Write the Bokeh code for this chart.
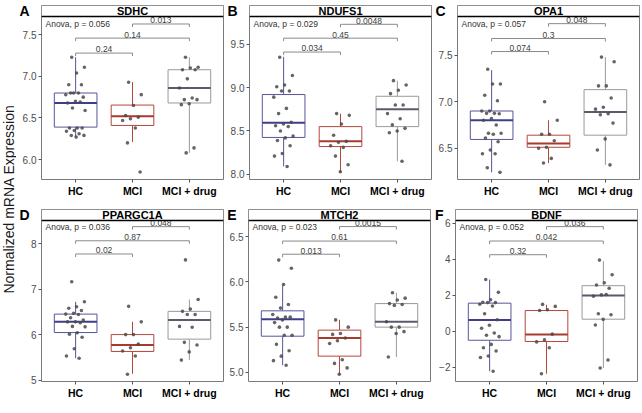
import math
from bokeh.plotting import figure
from bokeh.layouts import row, column
from bokeh.models import Range1d, FixedTicker, BoxAnnotation, Span, Label, LinearAxis
from bokeh.core.properties import value
from bokeh.embed import file_html
from bokeh.resources import INLINE

FONT = "Liberation Sans"

# ---------------- data ----------------
groups = ["HC", "MCI", "MCI + drug"]
genes = ["SDHC", "NDUFS1", "OPA1", "PPARGC1A", "MTCH2", "BDNF"]
letters = ["A", "B", "C", "D", "E", "F"]
anova_p = ["0.056", "0.029", "0.057", "0.036", "0.023", "0.052"]
p_hc_mci = ["0.24", "0.034", "0.074", "0.02", "0.013", "0.32"]
p_hc_drug = ["0.14", "0.45", "0.3", "0.87", "0.61", "0.042"]
p_mci_drug = ["0.013", "0.0048", "0.048", "0.048", "0.0015", "0.036"]
ylevel_hc_mci = [7.28, 9.41, 7.54, 7.77, 6.305, 4.26]
ylevel_hc_drug = [7.46, 9.57, 7.68, 8.06, 6.45, 5.02]
ylevel_mci_drug = [7.63, 9.73, 7.84, 8.37, 6.61, 5.82]
y_limits = [(5.76, 7.72), (7.94, 9.82), (6.163, 7.917), (4.97, 8.505), (4.90, 6.677), (-2.78, 6.16)]
y_ticks = [[6.0, 6.5, 7.0, 7.5], [8.0, 8.5, 9.0, 9.5], [6.5, 7.0, 7.5],
           [5, 6, 7, 8], [5.0, 5.5, 6.0, 6.5], [-2, 0, 2, 4, 6]]
y_tick_labels = [["6.0", "6.5", "7.0", "7.5"], ["8.0", "8.5", "9.0", "9.5"], ["6.5", "7.0", "7.5"],
                 ["5", "6", "7", "8"], ["5.0", "5.5", "6.0", "6.5"], ["\u22122", "0", "2", "4", "6"]]

sdhc_hc = [7.23, 7.11, 7.04, 6.90, 6.90, 6.80, 6.78, 6.80, 6.80, 6.75, 6.70, 6.68, 6.69, 6.62, 6.59,
           6.38, 6.38, 6.38, 6.35, 6.34, 6.31, 6.29, 6.29, 6.27]
sdhc_mci = [6.93, 6.78, 6.65, 6.53, 6.51, 6.49, 6.47, 6.38, 6.20, 5.85]
sdhc_drug = [7.23, 7.11, 7.10, 7.08, 7.08, 6.97, 6.86, 6.74, 6.72, 6.72, 6.67, 6.66, 6.14, 6.08]
sdhc_lower = [6.27, 6.21, 6.08]
sdhc_q1 = [6.39, 6.41, 6.68]
sdhc_med = [6.68, 6.52, 6.86]
sdhc_q3 = [6.80, 6.655, 7.08]
sdhc_upper = [7.23, 6.93, 7.23]

ndufs1_hc = [9.35, 9.14, 9.03, 9.01, 8.96, 8.96, 8.89, 8.76, 8.70, 8.60, 8.58, 8.56, 8.55, 8.50, 8.44,
             8.42, 8.39, 8.33, 8.24, 8.21, 8.09]
ndufs1_mci = [8.70, 8.68, 8.58, 8.45, 8.38, 8.37, 8.33, 8.31, 8.21, 8.11, 8.03]
ndufs1_drug = [9.08, 9.03, 8.97, 8.93, 8.80, 8.80, 8.70, 8.64, 8.57, 8.53, 8.50, 8.48, 8.15]
ndufs1_lower = [8.09, 8.02, 8.15]
ndufs1_q1 = [8.425, 8.32, 8.55]
ndufs1_med = [8.595, 8.38, 8.75]
ndufs1_q3 = [8.92, 8.55, 8.90]
ndufs1_upper = [9.355, 8.70, 9.08]

opa1_hc = [7.35, 7.19, 7.19, 7.07, 7.01, 6.90, 6.90, 6.875, 6.875, 6.87, 6.82, 6.80, 6.75, 6.66, 6.66,
           6.65, 6.61, 6.57, 6.48, 6.44, 6.44, 6.29, 6.24]
opa1_mci = [7.00, 6.80, 6.65, 6.65, 6.58, 6.51, 6.50, 6.39, 6.34]
opa1_drug = [7.48, 7.43, 7.17, 7.17, 7.04, 6.94, 6.92, 6.87, 6.86, 6.77, 6.60, 6.48, 6.32]
opa1_lower = [6.24, 6.34, 6.32]
opa1_q1 = [6.594, 6.51, 6.64]
opa1_med = [6.80, 6.55, 6.89]
opa1_q3 = [6.90, 6.64, 7.13]
opa1_upper = [7.34, 6.80, 7.48]

ppargc1a_hc = [7.16, 6.72, 6.61, 6.58, 6.53, 6.47, 6.45, 6.44, 6.37, 6.32, 6.28, 6.28, 6.26, 6.18, 6.17,
               6.04, 6.01, 5.94, 5.69, 5.53, 5.48]
ppargc1a_mci = [6.62, 6.28, 6.00, 6.00, 5.79, 5.71, 5.64, 5.53, 5.13]
ppargc1a_drug = [7.64, 6.77, 6.56, 6.51, 6.44, 6.44, 6.18, 6.16, 5.83, 5.77, 5.62, 5.44]
ppargc1a_lower = [5.48, 5.14, 5.44]
ppargc1a_q1 = [6.045, 5.63, 5.90]
ppargc1a_med = [6.28, 5.77, 6.32]
ppargc1a_q3 = [6.45, 6.00, 6.51]
ppargc1a_upper = [6.72, 6.28, 6.77]

mtch2_hc = [6.24, 6.15, 5.97, 5.83, 5.75, 5.71, 5.64, 5.61, 5.60, 5.61, 5.58, 5.55, 5.50, 5.50, 5.41,
            5.41, 5.31, 5.24, 5.18, 5.13, 5.08]
mtch2_mci = [5.58, 5.50, 5.43, 5.42, 5.38, 5.35, 5.32, 5.14, 5.10, 5.05, 4.98]
mtch2_drug = [5.88, 5.82, 5.80, 5.76, 5.75, 5.74, 5.56, 5.50, 5.50, 5.45, 5.43, 5.17]
mtch2_lower = [5.08, 4.98, 5.17]
mtch2_q1 = [5.40, 5.18, 5.50]
mtch2_med = [5.587, 5.38, 5.56]
mtch2_q3 = [5.68, 5.467, 5.76]
mtch2_upper = [5.96, 5.58, 5.88]

bdnf_hc = [2.88, 2.17, 1.76, 1.62, 1.60, 1.60, 1.51, 1.41, 0.98, 0.65, 0.34, 0.18, -0.09, -0.21, -0.29,
           -0.72, -0.91, -1.09, -1.36, -1.45, -2.21]
bdnf_mci = [1.50, 1.39, 1.20, 1.16, -0.15, -0.47, -0.58, -0.91, -2.35]
bdnf_drug = [3.96, 3.15, 2.70, 2.58, 2.40, 2.03, 1.96, 2.05, 0.98, 0.93, 0.67, 0.36, -1.59, -2.03]
bdnf_lower = [-2.21, -2.35, -2.03]
bdnf_q1 = [-0.49, -0.56, 0.68]
bdnf_med = [0.63, -0.17, 1.99]
bdnf_q3 = [1.57, 1.16, 2.54]
bdnf_upper = [2.88, 1.48, 3.91]

points = [
    [sdhc_hc, sdhc_mci, sdhc_drug],
    [ndufs1_hc, ndufs1_mci, ndufs1_drug],
    [opa1_hc, opa1_mci, opa1_drug],
    [ppargc1a_hc, ppargc1a_mci, ppargc1a_drug],
    [mtch2_hc, mtch2_mci, mtch2_drug],
    [bdnf_hc, bdnf_mci, bdnf_drug],
]
boxes = [
    (sdhc_lower, sdhc_q1, sdhc_med, sdhc_q3, sdhc_upper),
    (ndufs1_lower, ndufs1_q1, ndufs1_med, ndufs1_q3, ndufs1_upper),
    (opa1_lower, opa1_q1, opa1_med, opa1_q3, opa1_upper),
    (ppargc1a_lower, ppargc1a_q1, ppargc1a_med, ppargc1a_q3, ppargc1a_upper),
    (mtch2_lower, mtch2_q1, mtch2_med, mtch2_q3, mtch2_upper),
    (bdnf_lower, bdnf_q1, bdnf_med, bdnf_q3, bdnf_upper),
]

# ---------------- style ----------------
box_colors = ["#55559b", "#b4473a", "#9a9a9a"]
median_colors = ["#3e3e8a", "#a83a2d", "#5a5a6c"]
point_color = "#4a4a4a"
FRAME_W = 182
STRIP_PX = 11
TICK_FONT_PX = 10


def approx_width(s):
    w = 0.0
    for ch in s:
        if ch == ".":
            w += 0.278
        elif ch == "\u2212":
            w += 0.584
        else:
            w += 0.556
    return w * TICK_FONT_PX


def jitter(n):
    return [(((k * 0.6180339887) + 0.31) % 1.0 - 0.5) * 0.36 for k in range(n)]


def make_panel(i, top_border, frame_h):
    ylo, yhi = y_limits[i]
    upp = (yhi - ylo) / (frame_h - STRIP_PX)
    ytop = yhi + STRIP_PX * upp
    mid = (yhi + ytop) / 2
    p = figure(frame_width=FRAME_W, frame_height=frame_h,
               x_range=Range1d(0.4, 3.6), y_range=Range1d(ylo, ytop),
               output_backend="svg", toolbar_location=None,
               min_border_left=20, min_border_right=1,
               min_border_top=top_border, min_border_bottom=18)
    p.xgrid.grid_line_color = None
    p.ygrid.grid_line_color = None
    p.outline_line_color = "#7a7a7a"
    p.outline_line_width = 1
    p.background_fill_color = "white"

    # axes
    p.xaxis.ticker = FixedTicker(ticks=[1, 2, 3])
    p.xaxis.major_label_overrides = {k + 1: g for k, g in enumerate(groups)}
    p.xaxis.major_label_text_font = FONT
    p.xaxis.major_label_text_font_style = "bold"
    p.xaxis.major_label_text_font_size = "10.5px"
    p.xaxis.major_label_text_color = "black"
    p.xaxis.major_label_standoff = 2
    p.yaxis.ticker = FixedTicker(ticks=y_ticks[i])
    p.yaxis.major_label_overrides = {t: l for t, l in zip(y_ticks[i], y_tick_labels[i])}
    p.yaxis.major_label_text_font = FONT
    p.yaxis.major_label_text_font_size = "%dpx" % TICK_FONT_PX
    p.yaxis.major_label_text_color = "#4d4d4d"
    p.yaxis.major_label_standoff = 2
    for ax in (p.xaxis, p.yaxis):
        ax.axis_line_color = None
        ax.major_tick_in = 0
        ax.major_tick_out = 3
        ax.major_tick_line_color = "#555555"
        ax.minor_tick_line_color = None

    # panel letter as an outer axis label sitting left of the strip
    inner = 3 + 2 + max(approx_width(s) for s in y_tick_labels[i])
    letter_axis = LinearAxis(ticker=FixedTicker(ticks=[mid]),
                             major_label_overrides={mid: letters[i]},
                             axis_line_color=None, major_tick_line_color=None,
                             minor_tick_line_color=None, major_tick_in=0, major_tick_out=0,
                             major_label_standoff=int(round(9 - inner)),
                             major_label_text_font=FONT, major_label_text_font_style="bold",
                             major_label_text_font_size="14px", major_label_text_color="black")
    p.add_layout(letter_axis, "left")

    lower, q1, med, q3, upper = boxes[i]
    xs = [1, 2, 3]
    p.segment(x0=xs, y0=q3, x1=xs, y1=upper, line_color=box_colors, line_width=1)
    p.segment(x0=xs, y0=q1, x1=xs, y1=lower, line_color=box_colors, line_width=1)
    p.vbar(x=xs, width=0.75, bottom=q1, top=q3, fill_color="white",
           line_color=box_colors, line_width=1)
    p.segment(x0=[x - 0.375 for x in xs], y0=med, x1=[x + 0.375 for x in xs], y1=med,
              line_color=median_colors, line_width=2)
    for g in range(3):
        vals = points[i][g]
        jx = [g + 1 + d for d in jitter(len(vals))]
        p.scatter(x=jx, y=vals, size=3.6, fill_color=point_color, line_color=None, fill_alpha=0.85)

    # brackets
    tick = 3 * upp
    pairs = [(1, 3, ylevel_hc_drug[i], p_hc_drug[i]),
             (1, 2, ylevel_hc_mci[i], p_hc_mci[i]),
             (2, 3, ylevel_mci_drug[i], p_mci_drug[i])]
    bx, by, tx, ty, tt = [], [], [], [], []
    for a, b, y, lab in pairs:
        bx.append([a, a, b, b])
        by.append([y - tick, y, y, y - tick])
        tx.append((a + b) / 2)
        ty.append(y + 0.6 * upp)
        tt.append(lab)
    p.multi_line(xs=bx, ys=by, line_color="#8a8a8a", line_width=1)
    p.text(x=tx, y=ty, text=tt, text_align="center", text_baseline="bottom",
           text_font=value(FONT), text_font_size="8.5px", text_color="#404040")
    p.text(x=[0.4], y=[ylevel_mci_drug[i]], text=["Anova, p = " + anova_p[i]], x_offset=4,
           text_align="left", text_baseline="middle",
           text_font=value(FONT), text_font_size="8.5px", text_color="#333333")

    # strip
    p.add_layout(BoxAnnotation(bottom=yhi, fill_color="white", fill_alpha=1.0,
                               line_color="#555555", line_width=1, level="annotation"))
    p.add_layout(Span(location=yhi, dimension="width", line_color="black", line_width=1.6))
    p.add_layout(Label(x=2.0, y=mid, text=genes[i], text_align="center",
                       text_baseline="middle", text_font=FONT, text_font_style="bold",
                       text_font_size="11px", text_color="black"))
    return p


panels = ([make_panel(i, 5, 174) for i in range(3)] +
          [make_panel(i, 10, 172) for i in range(3, 6)])

ytitle = figure(width=16, height=397, x_range=Range1d(0, 1), y_range=Range1d(0, 1),
                output_backend="svg", toolbar_location=None, x_axis_type=None, y_axis_type=None,
                min_border_left=0, min_border_right=0, min_border_top=0, min_border_bottom=0)
ytitle.outline_line_color = None
ytitle.xgrid.grid_line_color = None
ytitle.ygrid.grid_line_color = None
ytitle.add_layout(Label(x=0.5, y=0.5, text="Normalized mRNA Expression", angle=math.pi / 2,
                        text_align="center", text_baseline="middle", text_font=FONT,
                        text_font_size="14px", text_color="#1a1a1a"))

layout = row(ytitle, column(row(*panels[:3]), row(*panels[3:])))

open("out.html", "w").write(file_html(layout, INLINE))
